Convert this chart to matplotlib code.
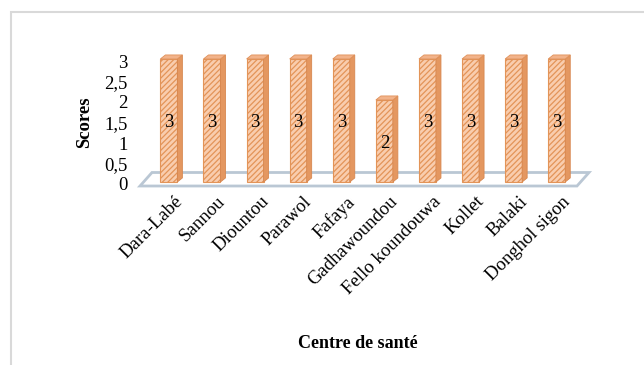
import matplotlib
matplotlib.use("Agg")
import matplotlib.pyplot as plt
from matplotlib.patches import Polygon, Rectangle
from matplotlib.transforms import offset_copy

categories = ["Dara-Labé", "Sannou", "Diountou", "Parawol", "Fafaya",
              "Gadhawoundou", "Fello koundouwa", "Kollet", "Balaki", "Donghol sigon"]
scores = [3, 3, 3, 3, 3, 2, 3, 3, 3, 3]
yticks = [0, 0.5, 1, 1.5, 2, 2.5, 3]
ytick_labels = ["0", "0,5", "1", "1,5", "2", "2,5", "3"]

plt.rcParams['font.family'] = ['Liberation Serif', 'DejaVu Serif']

W, H = 644, 365
fig = plt.figure(figsize=(W / 100, H / 100), dpi=100)

# outer frame
fig.patches.append(Rectangle((11 / W, -0.05), 1.0, (H - 12) / H + 0.05,
                             transform=fig.transFigure, fill=False,
                             edgecolor="#D9D9D9", linewidth=1.5))

XMIN, XMAX = -0.67, 9.47
ax_left, ax_right = 140, 577
ax_bottom, ax_top = 184, 61
ax = fig.add_axes([ax_left / W, (H - ax_bottom) / H,
                   (ax_right - ax_left) / W, (ax_bottom - ax_top) / H])
ax.set_xlim(XMIN, XMAX)
ax.set_ylim(0, 3)
for s in ax.spines.values():
    s.set_visible(False)
ax.set_xticks([])
ax.set_yticks(yticks)
ax.set_yticklabels(ytick_labels, fontsize=13.5)
ax.tick_params(axis='y', length=0, pad=9)
ax.patch.set_alpha(0)

# pixel -> data conversions
px_x = (ax_right - ax_left) / (XMAX - XMIN)
px_y = (ax_bottom - ax_top) / 3.0

# floor parallelogram
fdx, fdy = 12 / px_x, 13.5 / px_y
x0, x1 = XMIN, XMAX
y_floor = -2 / px_y
floor = Polygon([(x0, y_floor), (x1, y_floor), (x1 + fdx, y_floor + fdy), (x0 + fdx, y_floor + fdy)],
                closed=True, facecolor="white", edgecolor="#BAC7D4", linewidth=2.0,
                clip_on=False, zorder=1)
ax.add_patch(floor)

bw = 17 / px_x
dx, dy = 5 / px_x, 4 / px_y
front_col = "#F9CDAE"
hatch_col = "#E6A075"
side_col = "#E49760"
top_col = "#F2B38A"

plt.rcParams['hatch.color'] = hatch_col
plt.rcParams['hatch.linewidth'] = 0.9
xs = list(range(len(categories)))
bars = ax.bar(xs, scores, width=bw, bottom=0.05, facecolor=front_col, edgecolor="#E39458",
              hatch="//////", linewidth=0.8, zorder=3, clip_on=False)
for b, v in zip(bars, scores):
    xl = b.get_x()
    xr = xl + b.get_width()
    yb = b.get_y()
    yt = yb + b.get_height()
    side = Polygon([(xr, yb), (xr + dx, yb + dy), (xr + dx, yt + dy), (xr, yt)], closed=True,
                   facecolor=side_col, edgecolor="#D7874F", linewidth=0.6,
                   zorder=3, clip_on=False)
    top = Polygon([(xl, yt), (xr, yt), (xr + dx, yt + dy), (xl + dx, yt + dy)], closed=True,
                  facecolor=top_col, edgecolor="#E0915A", linewidth=0.6,
                  zorder=3, clip_on=False)
    ax.add_patch(side)
    ax.add_patch(top)
    ax.text(b.get_x() + b.get_width() / 2, v / 2, str(v), ha="center", va="center",
            fontsize=13.5, zorder=5)

# rotated category labels
lab_tr = offset_copy(ax.transData, fig=fig, x=5, y=-9, units="dots")
for x, c in zip(xs, categories):
    ax.text(x, 0, c, rotation=45, ha="right", va="top", rotation_mode="anchor",
            fontsize=13.5, transform=lab_tr)

fig.text(85 / W, (H - 122) / H, "Scores", rotation=90, ha="center", va="center",
         fontsize=13.5, fontweight="bold")
fig.text(358 / W, (H - 343) / H, "Centre de santé", ha="center", va="center",
         fontsize=13, fontweight="bold")

fig.savefig("out.png", dpi=100)
